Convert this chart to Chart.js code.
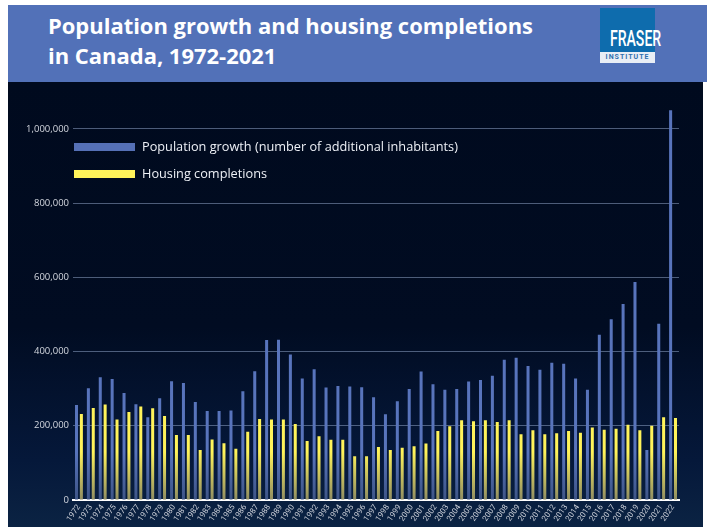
<!DOCTYPE html>
<html>
<head>
<meta charset="utf-8">
<script src="https://cdn.jsdelivr.net/npm/chart.js@4"></script>
<style>
  html, body { margin:0; padding:0; background:#ffffff; width:707px; height:527px; overflow:hidden; font-family: Roboto, "Open Sans", sans-serif; }
  #header { position:absolute; left:8px; top:5px; width:699px; height:77px; background:#5271b8; }
  #title { position:absolute; left:48px; top:10px; color:#ffffff; font-family:"Open Sans", Roboto, sans-serif; font-weight:700; font-size:22px; line-height:30px; white-space:nowrap; transform-origin:0 0; }
  #logo { position:absolute; left:600px; top:8px; width:55px; height:55px; background:#0e6cad; }
  #logo .f { position:absolute; left:0; top:20px; width:55px; text-align:center; color:#fff; font-size:22px; line-height:22px; font-weight:500; transform:scaleX(0.64); transform-origin:center; }
  #logo .s { position:absolute; left:0; bottom:0; width:55px; height:11px; background:#e9eef5; color:#2f6eae; font-size:7px; line-height:11px; text-align:center; letter-spacing:1px; font-weight:700; }
  #panel { position:absolute; left:8px; top:82px; width:695px; height:445px; background:linear-gradient(to bottom, #000a1e 0%, #010c22 55%, #05183a 85%, #0b2343 100%); }
  #chart { position:absolute; left:0; top:0; }
  .leg { position:absolute; left:66px; color:#eef1f7; font-family:"Open Sans", Roboto, sans-serif; font-size:12.6px; white-space:nowrap; }
  .leg i { display:inline-block; width:61px; height:8px; vertical-align:middle; margin-right:7px; position:relative; top:-1px; }
</style>
</head>
<body>
<div id="header">
</div>
<div id="title"><span id="t1">Population growth and housing completions</span><br>in Canada, 1972-2021</div>
<div id="logo"><div class="f">FRASER</div><div class="s">INSTITUTE</div></div>
<div id="panel">
  <canvas id="chart" width="695" height="445"></canvas>
  <div class="leg" style="top:55px;"><i style="background:#5570b6"></i><span id="l1">Population growth (number of additional inhabitants)</span></div>
  <div class="leg" style="top:82px;"><i style="background:#fff35a"></i>Housing completions</div>
</div>
<script>
const years = ["1972","1973","1974","1975","1976","1977","1978","1979","1980","1981",
  "1982","1983","1984","1985","1986","1987","1988","1989","1990","1991",
  "1992","1993","1994","1995","1996","1997","1998","1999","2000","2001",
  "2002","2003","2004","2005","2006","2007","2008","2009","2010","2011",
  "2012","2013","2014","2015","2016","2017","2018","2019","2020","2021","2022"];

const populationGrowth = [256000,301000,331000,326000,288000,258000,223000,274000,320000,315000,
  264000,240000,240000,241000,293000,347000,431000,432000,392000,327000,
  352000,303000,307000,306000,304000,277000,231000,266000,299000,346000,
  312000,297000,299000,319000,323000,335000,378000,383000,361000,351000,
  370000,367000,327000,297000,445000,487000,528000,587000,135000,475000,1050000];

const housingCompletions = [232000,248000,257000,217000,237000,252000,247000,226000,175000,175000,
  135000,163000,153000,138000,184000,218000,217000,217000,205000,159000,
  172000,162000,162000,118000,118000,143000,135000,141000,145000,152000,
  186000,199000,215000,212000,215000,210000,215000,177000,188000,177000,
  180000,186000,181000,195000,189000,192000,203000,188000,200000,223000,221000];

const yTicks = [0,200000,400000,600000,800000,1000000];

// fit title & legend text to reference widths
(function fit() {
  const t1 = document.getElementById('t1');
  const w = t1.getBoundingClientRect().width;
  if (w > 0) document.getElementById('title').style.transform = 'scaleX(' + (485 / w) + ')';
  const l1 = document.getElementById('l1');
  const lw = l1.getBoundingClientRect().width;
  if (lw > 0) {
    const fs = 12.6 * 316 / lw;
    document.querySelectorAll('.leg').forEach(e => e.style.fontSize = fs + 'px');
  }
})();

function barGradient(ctx, top, bottom) {
  const chart = ctx.chart;
  const area = chart.chartArea;
  if (!area) return top;
  const ys = chart.scales.y;
  const g = chart.ctx.createLinearGradient(0, ys.getPixelForValue(130000), 0, area.bottom);
  g.addColorStop(0, top);
  g.addColorStop(1, bottom);
  return g;
}

new Chart(document.getElementById('chart'), {
  type: 'bar',
  data: {
    labels: years,
    datasets: [
      { label: 'Population growth (number of additional inhabitants)', data: populationGrowth,
        backgroundColor: c => barGradient(c, '#5874bc', '#3d5486'),
        borderWidth: 0, barPercentage: 0.62, categoryPercentage: 0.82 },
      { label: 'Housing completions', data: housingCompletions,
        backgroundColor: c => barGradient(c, '#fff35a', '#8f8c62'),
        borderWidth: 0, barPercentage: 0.62, categoryPercentage: 0.82 }
    ]
  },
  options: {
    responsive: false,
    maintainAspectRatio: false,
    animation: false,
    devicePixelRatio: 1,
    layout: { padding: { left: 0, right: 24, top: 2, bottom: 0 } },
    plugins: { legend: { display: false }, tooltip: { enabled: false } },
    scales: {
      x: {
        grid: { display: false, drawTicks: false },
        border: { display: true, color: '#ffffff', width: 2 },
        ticks: { color: '#c9cdd6', font: { family: 'Roboto', size: 8 }, minRotation: 55, maxRotation: 55, padding: 3, autoSkip: false },
        afterFit: s => { s.height = 27; }
      },
      y: {
        min: 0, max: 1100000,
        z: 1,
        afterBuildTicks: s => { s.ticks = yTicks.map(v => ({ value: v })); },
        grid: { color: 'rgba(140,160,195,0.55)', lineWidth: 1, drawTicks: false },
        border: { display: false },
        ticks: { color: '#d3d7df', font: { family: 'Open Sans', size: 9.5 }, padding: 4,
          callback: v => Number(v).toLocaleString('en-US') },
        afterFit: s => { s.width = 65; }
      }
    }
  }
});
</script>
</body>
</html>
